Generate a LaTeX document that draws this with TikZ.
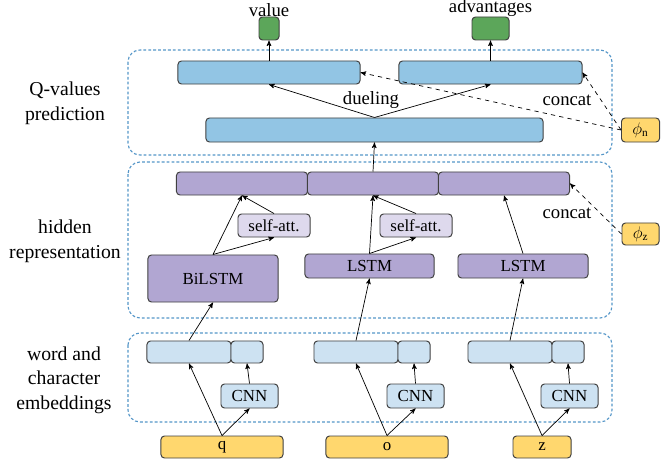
\documentclass[tikz,border=0pt]{standalone}
\usepackage{fontspec}
\setmainfont{Liberation Serif}
\usepackage{tikz}
\usetikzlibrary{arrows}
\usetikzlibrary{positioning}
\definecolor{qblue}{RGB}{146,197,228}
\definecolor{embblue}{RGB}{205,226,242}
\definecolor{hidpurple}{RGB}{177,166,210}
\definecolor{attlilac}{RGB}{222,217,237}
\definecolor{outgreen}{RGB}{92,166,90}
\definecolor{inyellow}{RGB}{255,215,110}
\definecolor{regionblue}{RGB}{85,150,200}
\tikzstyle{block} = [rectangle,rounded corners=2.5pt,draw=black!75,line width=0.7pt,inner sep=0pt,font=\fontsize{12}{14}\selectfont]
\tikzstyle{qbox} = [block,fill=qblue,minimum height=0.575cm]
\tikzstyle{outbox} = [block,fill=outgreen,minimum height=0.575cm]
\tikzstyle{hidbox} = [block,fill=hidpurple,minimum height=0.575cm]
\tikzstyle{attbox} = [block,fill=attlilac,minimum height=0.575cm,minimum width=1.8cm]
\tikzstyle{embbox} = [block,fill=embblue,minimum height=0.55cm]
\tikzstyle{inbox} = [block,fill=inyellow,minimum height=0.55cm]
\tikzstyle{region} = [draw=regionblue,line width=0.8pt,dash pattern=on 2pt off 1.5pt,rounded corners=0.3cm]
\tikzstyle{tag} = [font=\fontsize{13.3}{16}\selectfont,inner sep=1pt]
\tikzstyle{sidetag} = [font=\fontsize{14}{17.5}\selectfont,align=center]

\begin{document}
\begin{tikzpicture}[x=0.025cm,y=-0.025cm,->,>=stealth',line width=0.5pt]
    \useasboundingbox (0,0) rectangle (662,465);

    % dashed regions
    \draw[region,-] (128,50) rectangle (612,155);
    \draw[region,-] (128,162) rectangle (612,318);
    \draw[region,-] (128,333) rectangle (612,422);

    \node[sidetag] (lq) at (65,103) {Q-values\\prediction};
    \node[sidetag] (lh) at (65,241) {hidden\\representation};
    \node[sidetag] (le) at (64,380) {word and\\character\\embeddings};

    % Q-values prediction
    \node[outbox,minimum width=0.5cm]   (value) at (269,28.5) {};
    \node[outbox,minimum width=0.925cm] (adv)   at (490.5,28.5) {};
    \node[tag,above=-1.5pt of value] (valuetag) {value};
    \node[tag,above=-1.5pt of adv]   (advtag)   {advantages};
    \node[qbox,minimum width=4.55cm]  (qval)    at (269,72.5) {};
    \node[qbox,minimum width=4.575cm] (qadv)    at (490.5,72.5) {};
    \node[qbox,minimum width=8.425cm,minimum height=0.6cm] (qshared) at (374.5,130) {};
    \node[inbox,minimum width=0.95cm,minimum height=0.6cm] (phin) at (640.5,130) {$\phi_{\mathrm{n}}$};
    \node[tag] (dueling) at (371,100) {dueling};
    \node[tag] (concatq) at (567,100) {concat};

    % hidden representation
    \foreach \x [count=\i] in {242,373,504}
      \node[hidbox,minimum width=3.275cm] (hid\i) at (\x,183.5) {};
    \node[attbox] (att1) at (274,225.5) {self-att.};
    \node[attbox] (att2) at (416,225.5) {self-att.};
    \node[hidbox,minimum width=3.25cm,minimum height=1.175cm] (bilstm) at (213,278.5) {BiLSTM};
    \node[hidbox,minimum width=3.225cm,minimum height=0.6cm] (lstm1) at (369.5,266) {LSTM};
    \node[hidbox,minimum width=3.25cm,minimum height=0.6cm]  (lstm2) at (523,266) {LSTM};
    \node[inbox,minimum width=0.925cm] (phiz) at (640.5,234) {$\phi_{\mathrm{z}}$};
    \node[tag] (concath) at (567,213) {concat};

    % word and character embeddings
    \foreach \x/\s/\c [count=\i] in {189/247/249.5,356/414/415.5,510/568/569.5} {
      \node[embbox,minimum width=2.1cm] (word\i) at (\x,352) {};
      \node[embbox,minimum width=0.8cm] (char\i) at (\s,352) {};
      \node[embbox,minimum width=1.425cm,minimum height=0.6cm] (cnn\i) at (\c,396) {CNN};
    }
    \node[inbox,minimum width=3.05cm]  (q) at (222,447) {q};
    \node[inbox,minimum width=3.05cm]  (o) at (387,447) {o};
    \node[inbox,minimum width=1.45cm]  (z) at (542,447) {z};

    % connectors
    \path
      (qval.north) edge (value.south)
      (qadv.north) edge (adv.south)
      (qshared.north) edge (qval.south)
      (qshared.north) edge (qadv.south)
      (hid2.north) edge (qshared.south)
      (bilstm.north) edge (hid1.south)
      (bilstm.north) edge (att1.south)
      (att1.north) edge (hid1.south)
      (lstm1.north) edge (hid2.south)
      (lstm1.north) edge (att2.south)
      (att2.north) edge (hid2.south)
      (lstm2.north) edge (hid3.south)
      (word1.north) edge (bilstm.south)
      (word2.north) edge (lstm1.south)
      (word3.north) edge (lstm2.south);
    \path
      \foreach \v [count=\i] in {q,o,z} {
        (\v.north) edge (word\i.south)
        (\v.north) edge (cnn\i.south)
        (cnn\i.north) edge (char\i.south)
      };
    \path[dashed]
      (phin.west) edge (qadv.east)
      (phin.west) edge (qval.east)
      (phiz.west) edge (hid3.east);
\end{tikzpicture}
\end{document}
